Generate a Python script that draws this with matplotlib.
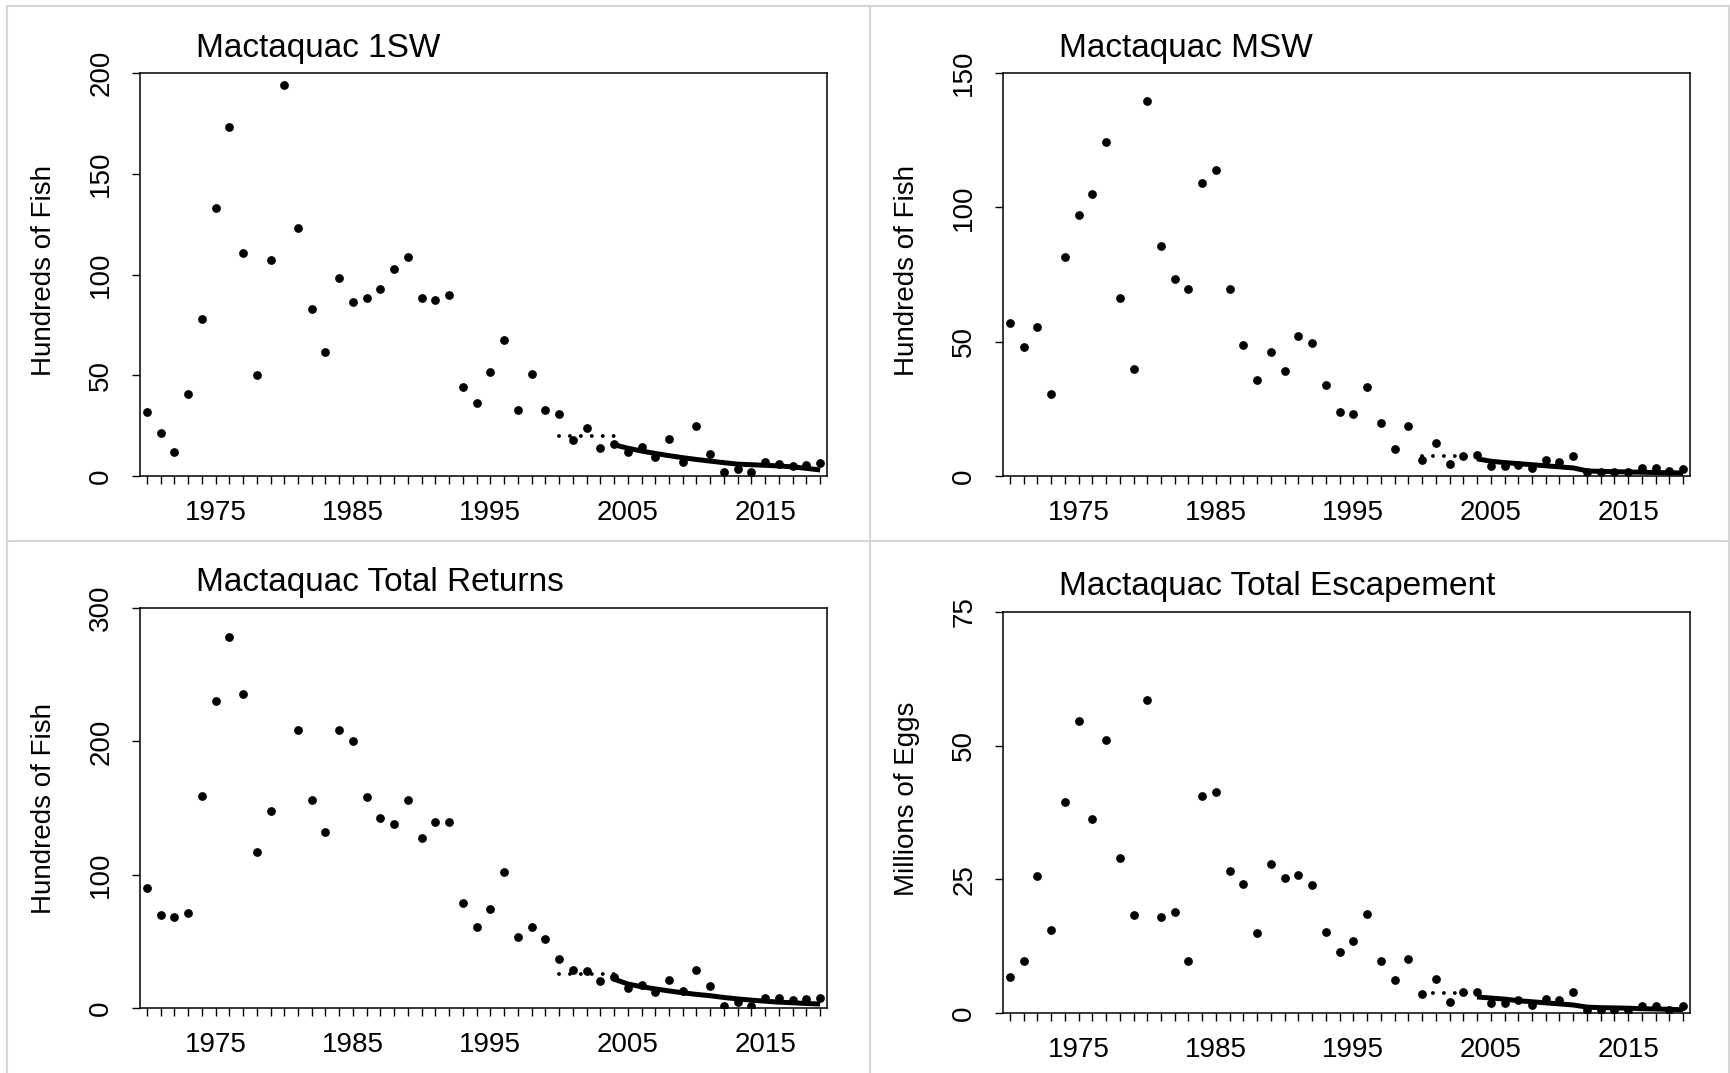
import numpy as np
import matplotlib
matplotlib.use("Agg")
import matplotlib.pyplot as plt
from matplotlib.lines import Line2D

plt.rcParams["font.family"] = ["Liberation Sans", "DejaVu Sans"]

# ── Data ─────────────────────────────────────────────────────────────────────
years = np.arange(1970, 2020)
trend_years = np.arange(2004, 2020)
ref_years = [2000, 2004]

one_sw = [31.9, 21.1, 12.1, 40.9, 77.7, 133.0, 173.2, 110.6, 49.9, 107.0,
          193.8, 123.1, 82.9, 61.3, 98.2, 86.4, 88.3, 92.8, 102.5, 108.7,
          88.3, 87.3, 90.0, 44.3, 36.4, 51.4, 67.5, 32.6, 50.6, 32.6,
          31.0, 17.8, 24.0, 14.1, 15.7, 12.0, 14.4, 9.5, 18.6, 7.0,
          24.8, 10.7, 1.8, 3.6, 2.2, 7.0, 6.2, 4.9, 5.3, 6.3]

msw = [57.1, 48.1, 55.3, 30.6, 81.6, 97.0, 105.1, 124.5, 66.1, 40.0,
       139.4, 85.7, 73.5, 69.5, 109.1, 113.9, 69.5, 48.7, 35.8, 46.0,
       39.2, 52.1, 49.5, 34.0, 23.8, 23.1, 33.2, 19.9, 9.9, 18.6,
       5.9, 12.4, 4.5, 7.6, 7.9, 3.6, 3.7, 4.2, 3.1, 6.0,
       5.1, 7.4, 1.4, 1.4, 1.4, 1.4, 2.9, 2.9, 1.8, 2.7]

total_returns = [90.0, 69.8, 68.3, 70.9, 158.8, 229.9, 278.4, 235.2, 117.3, 147.8,
                 333.0, 208.3, 156.0, 132.0, 208.5, 200.1, 158.6, 142.2, 138.2, 156.0,
                 127.5, 139.7, 139.7, 79.0, 60.4, 73.9, 102.0, 53.5, 60.7, 52.0,
                 36.8, 28.7, 27.6, 20.5, 23.0, 14.8, 17.0, 12.2, 20.8, 13.1,
                 28.6, 16.6, 1.8, 4.4, 1.8, 7.4, 7.4, 6.2, 6.5, 7.4]

escapement = [6.8, 9.8, 25.7, 15.5, 39.4, 54.7, 36.3, 51.0, 29.0, 18.3,
              58.5, 17.9, 18.9, 9.8, 40.5, 41.4, 26.6, 24.2, 14.9, 27.9,
              25.2, 25.9, 23.9, 15.2, 11.5, 13.5, 18.6, 9.8, 6.2, 10.1,
              3.6, 6.4, 2.0, 4.0, 4.0, 1.9, 1.9, 2.4, 1.5, 2.7,
              2.4, 4.0, 0.5, 0.5, 0.5, 0.6, 1.4, 1.4, 0.6, 1.3]

# 2000-2004 reference level (dotted) and 2004-2019 decline (solid)
ref_levels = [19.8, 7.4, 25.7, 3.7]

trend_1sw = [15.5, 13.8, 12.4, 11.2, 10.1, 9.1, 8.2, 7.4,
             6.6, 5.9, 5.6, 5.3, 5.0, 4.5, 3.8, 3.0]
trend_msw = [6.4, 5.5, 5.0, 4.6, 4.2, 3.8, 3.4, 3.0,
             1.9, 1.7, 1.6, 1.5, 1.4, 1.3, 1.2, 1.1]
trend_total = [21.7, 18.0, 16.0, 14.3, 12.8, 11.4, 10.2, 9.2,
               7.9, 6.8, 5.9, 5.1, 4.4, 3.9, 3.4, 3.0]
trend_esc = [3.0, 2.8, 2.6, 2.3, 2.1, 1.9, 1.7, 1.5,
             1.1, 1.0, 0.95, 0.9, 0.8, 0.75, 0.7, 0.6]

titles = ["Mactaquac 1SW", "Mactaquac MSW",
          "Mactaquac Total Returns", "Mactaquac Total Escapement"]
ylabels = ["Hundreds of Fish", "Hundreds of Fish",
           "Hundreds of Fish", "Millions of Eggs"]
yticks = [[0, 50, 100, 150, 200], [0, 50, 100, 150],
          [0, 100, 200, 300], [0, 25, 50, 75]]
xlabel_years = [1975, 1985, 1995, 2005, 2015]

series = [one_sw, msw, total_returns, escapement]
trends = [trend_1sw, trend_msw, trend_total, trend_esc]

# ── Layout (pixel boxes: left, top, right, bottom) ───────────────────────────
W, H = 1730, 1073
boxes = [(140, 73, 827, 476), (1003, 73, 1690, 476),
         (140, 608, 827, 1008), (1003, 612, 1690, 1013)]
# vertical nudge of the y label, in pixels (positive = up)
ylab_shift = [4, 4, 0, 14]


def draw_panel(fig, box, vals, ref, trend, title, ylab, ticks, shift):
    l, t, r, b = box
    ax = fig.add_axes([l / W, 1 - b / H, (r - l) / W, (b - t) / H])
    ax.plot(years, vals, "o", ms=6.3, color="black", mew=0)
    ax.plot(ref_years, [ref, ref], color="black", lw=2.8,
            linestyle=(0, (0.01, 2.8)), dash_capstyle="round")
    ax.plot(trend_years, trend, color="black", lw=3.6, solid_capstyle="butt")

    ax.set_xlim(1969.5, 2019.5)
    ax.set_ylim(ticks[0], ticks[-1])
    ax.set_xticks(xlabel_years)
    ax.set_xticks(years, minor=True)
    ax.set_yticks(ticks)
    ax.set_yticklabels([str(v) for v in ticks], rotation=90, va="center")
    ax.tick_params(which="both", direction="out", length=5.5, width=1,
                   labelsize=20, color="black")
    ax.tick_params(axis="x", pad=12)
    ax.tick_params(axis="y", pad=13)
    for sp in ax.spines.values():
        sp.set_linewidth(1.1)

    w_px, h_px = r - l, b - t
    ax.text(56 / w_px, 1 + 25 / h_px, title, transform=ax.transAxes,
            ha="left", va="center", fontsize=24)
    ax.text(-96 / w_px, 0.5 + shift / h_px, ylab, transform=ax.transAxes,
            ha="center", va="center", rotation=90, fontsize=20)
    return ax


def main():
    fig = plt.figure(figsize=(W / 100, H / 100), dpi=100)

    # light panel dividers
    grey = "#d6d6d6"
    for coords in [([7 / W, 7 / W], [0, 1 - 6 / H]),
                   ([7 / W, 1], [1 - 6 / H, 1 - 6 / H]),
                   ([870 / W, 870 / W], [0, 1 - 6 / H]),
                   ([7 / W, 1], [1 - 541 / H, 1 - 541 / H]),
                   ([1 - 1 / W, 1 - 1 / W], [0, 1 - 6 / H])]:
        fig.add_artist(Line2D(coords[0], coords[1], color=grey, lw=1.5))

    for box, vals, ref, trend, title, ylab, ticks, shift in zip(
            boxes, series, ref_levels, trends, titles, ylabels, yticks, ylab_shift):
        draw_panel(fig, box, vals, ref, trend, title, ylab, ticks, shift)

    fig.savefig("out.png", dpi=100)
    plt.close(fig)


if __name__ == "__main__":
    main()
